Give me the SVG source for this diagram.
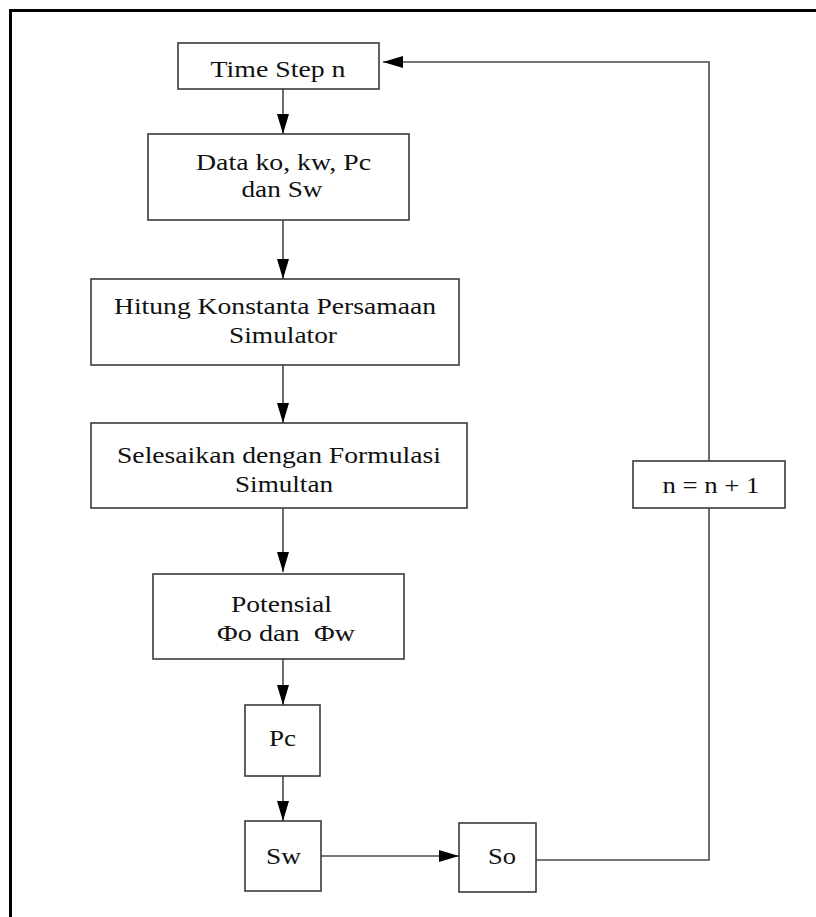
<svg xmlns="http://www.w3.org/2000/svg" width="816" height="917" viewBox="0 0 816 917">
  <style>
    .box { fill: #ffffff; stroke: #3a3a3a; stroke-width: 1.6; }
    .wire { fill: none; stroke: #4a4a4a; stroke-width: 1.6; }
    .lbl { font-family: "Liberation Serif", "Times New Roman", serif; font-size: 23.5px; fill: #111111; text-anchor: middle; }
    .frame { fill: none; stroke: #000000; stroke-width: 3; }
  </style>
  <defs>
    <marker id="head" markerUnits="userSpaceOnUse" markerWidth="21" markerHeight="13" refX="20" refY="6" orient="auto">
      <path d="M0,0 L20,6 L0,12 Z" fill="#000000"/>
    </marker>
  </defs>

  <rect x="0" y="0" width="816" height="917" fill="#ffffff"/>

  <!-- outer frame (top and left edges) -->
  <path class="frame" d="M10.5,917 V10.5 H816"/>

  <!-- connectors -->
  <g id="connectors">
    <line class="wire" x1="283" y1="89" x2="283" y2="134" marker-end="url(#head)"/>
    <line class="wire" x1="283" y1="220" x2="283" y2="279" marker-end="url(#head)"/>
    <line class="wire" x1="283" y1="365" x2="283" y2="423" marker-end="url(#head)"/>
    <line class="wire" x1="283" y1="508" x2="283" y2="572" marker-end="url(#head)"/>
    <line class="wire" x1="283" y1="659" x2="283" y2="705" marker-end="url(#head)"/>
    <line class="wire" x1="283" y1="776" x2="283" y2="821" marker-end="url(#head)"/>
    <line class="wire" x1="321" y1="856" x2="459" y2="856" marker-end="url(#head)"/>
    <polyline class="wire" points="536,860 709,860 709,508"/>
    <polyline class="wire" points="709,461 709,62 383,62" marker-end="url(#head)"/>
  </g>

  <g id="time-step">
    <rect class="box" x="178" y="43" width="201" height="46"/>
    <text class="lbl" x="278" y="77" textLength="135" lengthAdjust="spacingAndGlyphs">Time Step n</text>
  </g>

  <g id="data">
    <rect class="box" x="148" y="134" width="261" height="86"/>
    <text class="lbl" x="283.5" y="170" textLength="175" lengthAdjust="spacingAndGlyphs">Data ko, kw, Pc</text>
    <text class="lbl" x="282" y="197" textLength="81" lengthAdjust="spacingAndGlyphs">dan Sw</text>
  </g>

  <g id="hitung">
    <rect class="box" x="91" y="279" width="368" height="86"/>
    <text class="lbl" x="275" y="314" textLength="322" lengthAdjust="spacingAndGlyphs">Hitung Konstanta Persamaan</text>
    <text class="lbl" x="283" y="343" textLength="108" lengthAdjust="spacingAndGlyphs">Simulator</text>
  </g>

  <g id="selesaikan">
    <rect class="box" x="91" y="423" width="376" height="85"/>
    <text class="lbl" x="279" y="463" textLength="324" lengthAdjust="spacingAndGlyphs">Selesaikan dengan Formulasi</text>
    <text class="lbl" x="284" y="492" textLength="98" lengthAdjust="spacingAndGlyphs">Simultan</text>
  </g>

  <g id="potensial">
    <rect class="box" x="153" y="574" width="251" height="85"/>
    <text class="lbl" x="281.5" y="612" textLength="101" lengthAdjust="spacingAndGlyphs">Potensial</text>
    <text class="lbl" x="286" y="641" textLength="138" lengthAdjust="spacingAndGlyphs" xml:space="preserve" style="white-space: pre">Φo dan  Φw</text>
  </g>

  <g id="pc">
    <rect class="box" x="245" y="705" width="75" height="71"/>
    <text class="lbl" x="282.5" y="746" textLength="27" lengthAdjust="spacingAndGlyphs">Pc</text>
  </g>

  <g id="sw">
    <rect class="box" x="245" y="821" width="76" height="70"/>
    <text class="lbl" x="283.5" y="864" textLength="35" lengthAdjust="spacingAndGlyphs">Sw</text>
  </g>

  <g id="so">
    <rect class="box" x="459" y="823" width="77" height="69"/>
    <text class="lbl" x="502" y="864" textLength="28" lengthAdjust="spacingAndGlyphs">So</text>
  </g>

  <g id="increment">
    <rect class="box" x="633" y="461" width="152" height="47"/>
    <text class="lbl" x="711" y="493" textLength="97" lengthAdjust="spacingAndGlyphs">n = n + 1</text>
  </g>
</svg>
